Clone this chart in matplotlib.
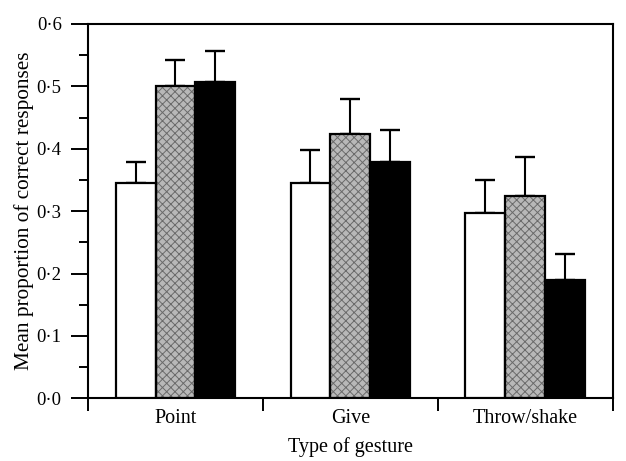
import matplotlib
matplotlib.use("Agg")
import matplotlib.pyplot as plt
import numpy as np
from matplotlib.ticker import MultipleLocator, FixedLocator, FuncFormatter

plt.rcParams['font.family'] = ['Liberation Serif', 'DejaVu Serif']
plt.rcParams['hatch.linewidth'] = 0.7

categories = ["Point", "Give", "Throw/shake"]
white_vals = [0.345, 0.345, 0.297]
white_err = [0.034, 0.053, 0.053]
gray_vals = [0.500, 0.424, 0.325]
gray_err = [0.043, 0.055, 0.061]
black_vals = [0.507, 0.379, 0.190]
black_err = [0.050, 0.051, 0.042]
yticks = [0.0, 0.1, 0.2, 0.3, 0.4, 0.5, 0.6]

fig = plt.figure(figsize=(6.26, 4.61), dpi=100)
ax = fig.add_axes([0.1406, 0.136, 0.838, 0.812])

centers = np.arange(len(categories)) + 0.5
w = 0.228

series = [
    (white_vals, white_err, dict(facecolor='white')),
    (gray_vals, gray_err, dict(facecolor='#b8b8b8', hatch='xxxx')),
    (black_vals, black_err, dict(facecolor='black')),
]
for i, (vals, errs, style) in enumerate(series):
    x = centers + (i - 1) * w
    if 'hatch' in style:
        ax.bar(x, vals, w, facecolor=style['facecolor'], edgecolor='#6a6a6a',
               hatch=style['hatch'], linewidth=0, zorder=2)
        ax.bar(x, vals, w, facecolor='none', edgecolor='black', linewidth=1.6, zorder=3)
    else:
        ax.bar(x, vals, w, facecolor=style['facecolor'], edgecolor='black',
               linewidth=1.6, zorder=3)
    ax.errorbar(x, vals, yerr=[np.zeros(len(vals)), errs], fmt='none',
                ecolor='black', elinewidth=1.5, capsize=7, capthick=1.7, zorder=1)

ax.set_xlim(0, 3)
ax.set_ylim(0, 0.6)

ax.yaxis.set_major_locator(FixedLocator(yticks))
ax.yaxis.set_minor_locator(MultipleLocator(0.05))
ax.yaxis.set_major_formatter(FuncFormatter(lambda v, p: f"{v:.1f}".replace('.', '\u00b7')))
ax.tick_params(axis='y', which='major', direction='out', length=12, width=1.4,
               labelsize=13.5, pad=7)
ax.tick_params(axis='y', which='minor', direction='out', length=6.5, width=1.4)

ax.xaxis.set_major_locator(FixedLocator([0, 1, 2, 3]))
ax.xaxis.set_major_formatter(FuncFormatter(lambda v, p: ""))
ax.xaxis.set_minor_locator(FixedLocator(list(centers)))
ax.set_xticklabels(categories, minor=True)
ax.tick_params(axis='x', which='major', direction='out', length=9, width=1.4)
ax.tick_params(axis='x', which='minor', length=0, labelsize=14.5, pad=8)

for s in ax.spines.values():
    s.set_linewidth(1.5)

ax.set_ylabel("Mean proportion of correct responses", fontsize=15.3, labelpad=2)
ax.set_xlabel("Type of gesture", fontsize=14.5, labelpad=6)

fig.savefig("out.png", dpi=100)
